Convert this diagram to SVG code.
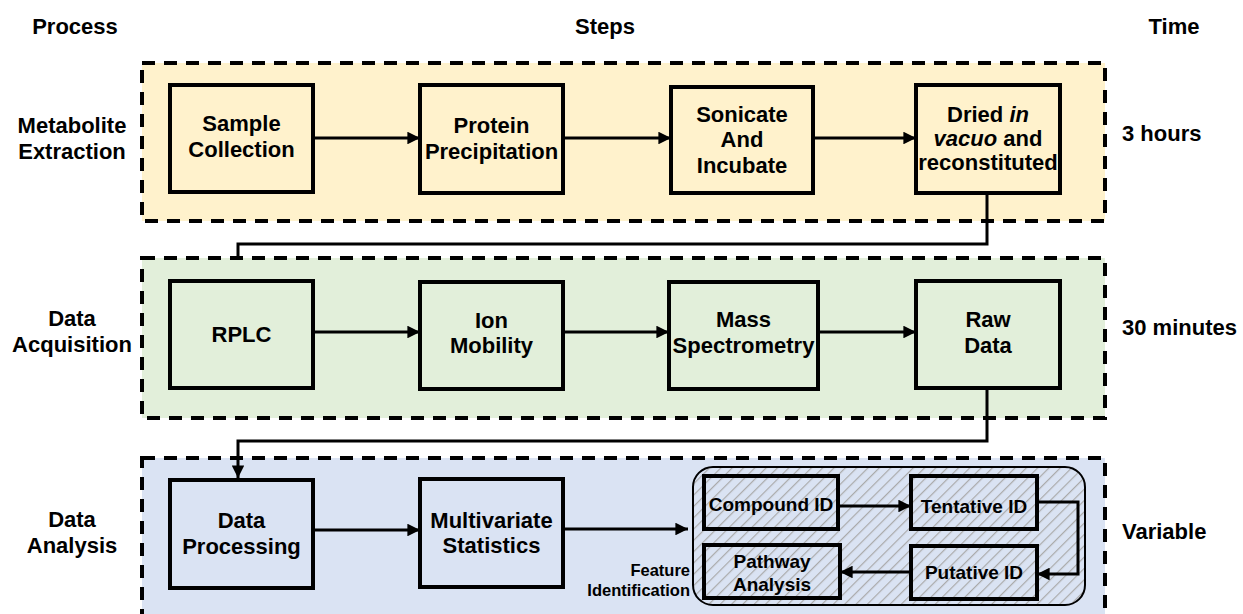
<svg xmlns="http://www.w3.org/2000/svg" width="1243" height="614" viewBox="0 0 1243 614">
<style>
text{font-family:"Liberation Sans",Arial,sans-serif;font-weight:bold;fill:#000}
.t{font-size:22px}
.c{text-anchor:middle}
.s{font-size:19px}
.f{font-size:16.5px;text-anchor:end}
.sec{stroke:#000;stroke-width:4;stroke-dasharray:13 9}
.box{stroke:#000;stroke-width:4}
.ln{fill:none;stroke:#000;stroke-width:3}
</style>
<defs>
<marker id="ah" viewBox="0 0 10 10" refX="10" refY="5" markerWidth="4.2" markerHeight="4.2" orient="auto" markerUnits="strokeWidth">
<path d="M0,0 L10,5 L0,10 z" fill="#000"/>
</marker>
<pattern id="hatch" patternUnits="userSpaceOnUse" width="8" height="8" patternTransform="rotate(45)">
<rect width="8" height="8" fill="#dae3f3"/>
<line x1="0" y1="0" x2="0" y2="8" stroke="#aaaaaa" stroke-width="2.4"/>
</pattern>
</defs>

<g id="headers">
<text class="t c" x="75" y="34">Process</text>
<text class="t c" x="605" y="34">Steps</text>
<text class="t c" x="1174" y="34">Time</text>
</g>

<g id="section-extraction">
<rect class="sec" x="142" y="63" width="963" height="158" fill="#fff2cc"/>
<text class="t c" x="72" y="133">Metabolite</text>
<text class="t c" x="72" y="159">Extraction</text>
<text class="t" x="1122" y="141">3 hours</text>
</g>
<g id="section-acquisition">
<rect class="sec" x="142" y="258" width="963" height="160" fill="#e2efda"/>
<text class="t c" x="72" y="326">Data</text>
<text class="t c" x="72" y="352">Acquisition</text>
<text class="t" x="1122" y="335">30 minutes</text>
</g>
<g id="section-analysis">
<rect class="sec" x="142" y="458" width="963" height="175" fill="#dae3f3"/>
<text class="t c" x="72" y="527">Data</text>
<text class="t c" x="72" y="553">Analysis</text>
<text class="t" x="1122" y="539">Variable</text>
</g>

<g id="n-sample"><rect class="box" x="170" y="85" width="143" height="107" fill="#fff2cc"/>
<text class="t c" x="241.5" y="131">Sample</text><text class="t c" x="241.5" y="157">Collection</text></g>
<g id="n-protein"><rect class="box" x="420" y="85" width="143" height="108" fill="#fff2cc"/>
<text class="t c" x="491.5" y="133">Protein</text><text class="t c" x="491.5" y="159">Precipitation</text></g>
<g id="n-sonicate"><rect class="box" x="671" y="87" width="142" height="106" fill="#fff2cc"/>
<text class="t c" x="742" y="122">Sonicate</text><text class="t c" x="742" y="147">And</text><text class="t c" x="742" y="173">Incubate</text></g>
<g id="n-dried"><rect class="box" x="916" y="85" width="144" height="108" fill="#fff2cc"/>
<text class="t c" x="988" y="122">Dried <tspan font-style="italic">in</tspan></text>
<text class="t c" x="988" y="146"><tspan font-style="italic">vacuo</tspan> and</text>
<text class="t c" x="988" y="170">reconstituted</text></g>

<g id="n-rplc"><rect class="box" x="170" y="281" width="143" height="107" fill="#e2efda"/>
<text class="t c" x="241.5" y="342">RPLC</text></g>
<g id="n-ion"><rect class="box" x="420" y="282" width="143" height="107" fill="#e2efda"/>
<text class="t c" x="491.5" y="328">Ion</text><text class="t c" x="491.5" y="353">Mobility</text></g>
<g id="n-mass"><rect class="box" x="669" y="282" width="149" height="107" fill="#e2efda"/>
<text class="t c" x="743.5" y="327">Mass</text><text class="t c" x="743.5" y="353">Spectrometry</text></g>
<g id="n-raw"><rect class="box" x="916" y="281" width="144" height="107" fill="#e2efda"/>
<text class="t c" x="988" y="327">Raw</text><text class="t c" x="988" y="353">Data</text></g>

<g id="n-processing"><rect class="box" x="170" y="480" width="143" height="108" fill="#dae3f3"/>
<text class="t c" x="241.5" y="528">Data</text><text class="t c" x="241.5" y="554">Processing</text></g>
<g id="n-multivariate"><rect class="box" x="420" y="479" width="143" height="108" fill="#dae3f3"/>
<text class="t c" x="491.5" y="528">Multivariate</text><text class="t c" x="491.5" y="553">Statistics</text></g>

<g id="n-feature-id">
<rect x="693" y="467" width="392" height="138" rx="20" fill="url(#hatch)" stroke="#000" stroke-width="2"/>
<text class="f" x="690" y="576">Feature</text>
<text class="f" x="690" y="596">Identification</text>
</g>
<g id="n-compound"><rect class="box" x="704" y="476" width="134" height="53" fill="none"/>
<text class="s c" x="771" y="511">Compound ID</text></g>
<g id="n-tentative"><rect class="box" x="911" y="476" width="126" height="53" fill="none"/>
<text class="s c" x="974" y="513">Tentative ID</text></g>
<g id="n-pathway"><rect class="box" x="704" y="545" width="136" height="53" fill="none"/>
<text class="s c" x="772" y="568">Pathway</text><text class="s c" x="772" y="591">Analysis</text></g>
<g id="n-putative"><rect class="box" x="911" y="546" width="126" height="53" fill="none"/>
<text class="s c" x="974" y="579">Putative ID</text></g>

<g id="connectors">
<line class="ln" x1="315" y1="138" x2="420" y2="138" marker-end="url(#ah)"/>
<line class="ln" x1="565" y1="138" x2="671" y2="138" marker-end="url(#ah)"/>
<line class="ln" x1="815" y1="138" x2="916" y2="138" marker-end="url(#ah)"/>
<polyline class="ln" points="987,195 987,244 238,244 238,258"/>
<line class="ln" x1="315" y1="332" x2="420" y2="332" marker-end="url(#ah)"/>
<line class="ln" x1="565" y1="332" x2="669" y2="332" marker-end="url(#ah)"/>
<line class="ln" x1="820" y1="332" x2="916" y2="332" marker-end="url(#ah)"/>
<polyline class="ln" points="987,390 987,441 238,441 238,478" marker-end="url(#ah)"/>
<line class="ln" x1="315" y1="530" x2="420" y2="530" marker-end="url(#ah)"/>
<line class="ln" x1="565" y1="529" x2="688" y2="529" marker-end="url(#ah)"/>
<line class="ln" x1="840" y1="506" x2="911" y2="506" marker-end="url(#ah)"/>
<polyline class="ln" points="1039,502 1078,502 1078,574 1037,574" marker-end="url(#ah)"/>
<line class="ln" x1="909" y1="572" x2="840" y2="572" marker-end="url(#ah)"/>
</g>
</svg>
